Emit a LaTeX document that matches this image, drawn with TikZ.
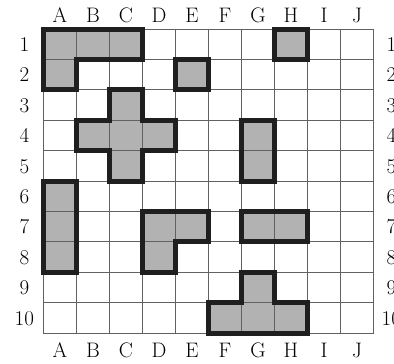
\documentclass[tikz,border=0pt]{standalone}
\usepackage{tikz}
\usetikzlibrary{positioning}

% the shaded pieces, drawn twice (fill under the grid, outline above it)
\newcommand{\pieceset}[1]{%
  \path[#1] (0,0) -- (3,0) -- (3,1) -- (1,1) -- (1,2) -- (0,2) -- cycle;
  \path[#1] (4,1) rectangle (5,2);
  \path[#1] (7,0) rectangle (8,1);
  \path[#1] (2,2) -- (3,2) -- (3,3) -- (4,3) -- (4,4) -- (3,4) -- (3,5) -- (2,5) -- (2,4) -- (1,4) -- (1,3) -- (2,3) -- cycle;
  \path[#1] (6,3) rectangle (7,5);
  \path[#1] (0,5) rectangle (1,8);
  \path[#1] (3,6) -- (5,6) -- (5,7) -- (4,7) -- (4,8) -- (3,8) -- cycle;
  \path[#1] (6,6) rectangle (8,7);
  \path[#1] (6,8) -- (7,8) -- (7,9) -- (8,9) -- (8,10) -- (5,10) -- (5,9) -- (6,9) -- cycle;
}

\begin{document}
\begin{tikzpicture}[x=33pt, y=-30.4pt,
  gridline/.style={draw=black!62, line width=1pt},
  piecefill/.style={fill=black!30},
  pieceedge/.style={draw=black!88, line width=5pt, line join=miter},
  lbl/.style={font=\fontsize{21}{25}\selectfont, inner sep=0pt, text height=14.5pt, text depth=0pt}]
\useasboundingbox (-1.318,-0.954) rectangle (10.621,10.987);
\pieceset{piecefill}
% grid
\foreach \i in {0,...,10} {
  \draw[gridline] (\i,0) -- (\i,10);
  \draw[gridline] (0,\i) -- (10,\i);
}
\pieceset{pieceedge}
% column and row labels
\foreach \c [count=\k from 0] in {A,B,C,D,E,F,G,H,I,J} {
  \node[lbl] (top\c) at (\k+0.5,-0.46) {\c};
  \node[lbl] (bot\c) at (\k+0.5,10.56) {\c};
}
\foreach \r in {1,...,10} {
  \node[lbl] (left\r) at (-0.58,\r-0.5) {\r};
  \node[lbl] (right\r) at (10.54,\r-0.5) {\r};
}
\end{tikzpicture}
\end{document}
